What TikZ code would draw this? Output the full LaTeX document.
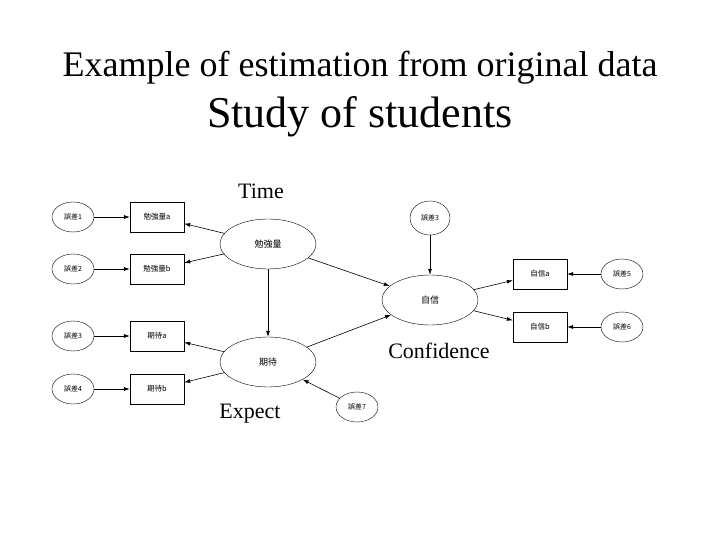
\documentclass[tikz,border=0pt]{standalone}
\usepackage{fontspec}
\setmainfont{Liberation Serif}
\newfontfamily\cjk{Noto Sans CJK JP}
\usetikzlibrary{arrows.meta,shapes.geometric}
\begin{document}
\begin{tikzpicture}[x=1pt,y=-1pt,
  err/.style={draw,ellipse,minimum width=42pt,minimum height=30pt,inner sep=0pt,font=\cjk\fontsize{7}{8}\selectfont},
  lat/.style={draw,ellipse,minimum width=96pt,minimum height=50pt,inner sep=0pt,font=\cjk\fontsize{9}{10}\selectfont},
  obs/.style={draw,rectangle,minimum width=54pt,minimum height=30pt,inner sep=0pt,font=\cjk\fontsize{7.5}{8}\selectfont},
  arr/.style={-{Latex[length=6pt,width=4pt]},line width=0.6pt},
  lbl/.style={font=\fontsize{22}{24}\selectfont}]
\useasboundingbox (0,0) rectangle (720,540);
\node (t1) at (360,68) {\fontsize{36}{40}\selectfont Example of estimation from original data};
\node (t2) at (360,117) {\fontsize{44}{48}\selectfont Study of students};
\node[lbl] (time) at (261,191) {Time};
\node[lbl] (conf) at (439,351) {Confidence};
\node[lbl] (exp) at (250,414) {Expect};

\node[err] (e1) at (73,217) {誤差1};
\node[err] (e2) at (73,269) {誤差2};
\node[err] (e3) at (73,336) {誤差3};
\node[err] (e4) at (73,389) {誤差4};
\node[obs] (ba) at (157,217) {勉強量a};
\node[obs] (bb) at (157,269) {勉強量b};
\node[obs] (ka) at (157,336) {期待a};
\node[obs] (kb) at (157,389) {期待b};
\node[lat] (B) at (268,244) {勉強量};
\node[lat] (K) at (268,362) {期待};
\node[lat] (J) at (430,300) {自信};
\node[err,minimum width=40pt,minimum height=34pt] (e3b) at (430,218) {誤差3};
\node[err] (e7) at (357,407) {誤差7};
\node[obs] (ja) at (540,274) {自信a};
\node[obs] (jb) at (540,327) {自信b};
\node[err] (e5) at (622,274) {誤差5};
\node[err] (e6) at (622,327) {誤差6};

\draw[arr] (e1) -- (ba);
\draw[arr] (e2) -- (bb);
\draw[arr] (e3) -- (ka);
\draw[arr] (e4) -- (kb);
\draw[arr] (B) -- (ba);
\draw[arr] (B) -- (bb);
\draw[arr] (K) -- (ka);
\draw[arr] (K) -- (kb);
\draw[arr] (B) -- (K);
\draw[arr] (B) -- (J);
\draw[arr] (K) -- (J);
\draw[arr] (e7) -- (K);
\draw[arr] (e3b) -- (J);
\draw[arr] (J) -- (ja);
\draw[arr] (J) -- (jb);
\draw[arr] (e5) -- (ja);
\draw[arr] (e6) -- (jb);
\end{tikzpicture}
\end{document}
